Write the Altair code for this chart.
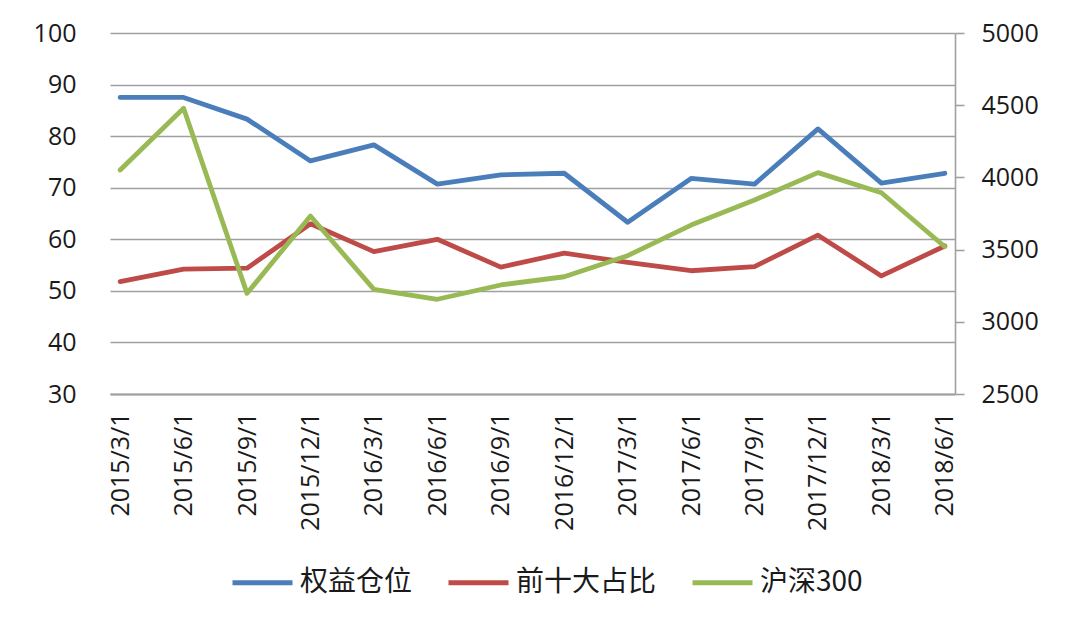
import altair as alt
import pandas as pd

dates = ["2015/3/1", "2015/6/1", "2015/9/1", "2015/12/1", "2016/3/1", "2016/6/1",
         "2016/9/1", "2016/12/1", "2017/3/1", "2017/6/1", "2017/9/1", "2017/12/1",
         "2018/3/1", "2018/6/1"]
equity = [87.5, 87.5, 83.3, 75.2, 78.3, 70.7, 72.5, 72.8, 63.3, 71.8, 70.7, 81.4, 70.9, 72.8]
top10 = [51.8, 54.2, 54.4, 63.0, 57.6, 60.0, 54.6, 57.3, 55.5, 53.9, 54.7, 60.8, 52.9, 58.7]
hs300 = [4051, 4479, 3197, 3733, 3225, 3156, 3255, 3312, 3458, 3670, 3843, 4033, 3894, 3520]

series_names = ["权益仓位", "前十大占比", "沪深300"]
colors = ["#4A7EBB", "#BE4B48", "#98B954"]

left_df = pd.DataFrame(
    [{"date": d, "value": v, "series": series_names[0]} for d, v in zip(dates, equity)]
    + [{"date": d, "value": v, "series": series_names[1]} for d, v in zip(dates, top10)]
)
right_df = pd.DataFrame(
    [{"date": d, "value": v, "series": series_names[2]} for d, v in zip(dates, hs300)]
)

LABEL_FONT = "Open Sans"
GRID = "#a0a0a0"
TXT = "#1a1a1a"

x_enc = alt.X(
    "date:N",
    sort=dates,
    scale=alt.Scale(type="point", padding=0.16),
    axis=alt.Axis(
        title=None, labelAngle=-90, ticks=False, domainColor=GRID, domainWidth=2,
        labelPadding=18, labelFontSize=25, labelFont=LABEL_FONT, labelColor=TXT,
        grid=False,
    ),
)

color_enc = alt.Color(
    "series:N",
    scale=alt.Scale(domain=series_names, range=colors),
    legend=alt.Legend(
        title=None, orient="none", direction="horizontal", columns=3,
        legendX=120, legendY=517,
        symbolType="stroke", symbolSize=3600, symbolStrokeWidth=5,
        labelFont="Noto Sans CJK SC", labelFontSize=28, labelColor=TXT,
        labelOffset=5, columnPadding=25, labelLimit=400,
    ),
)

left = alt.Chart(left_df).mark_line(strokeWidth=4.8, strokeJoin="round", strokeCap="round").encode(
    x=x_enc,
    y=alt.Y(
        "value:Q",
        scale=alt.Scale(domain=[30, 100], nice=False, zero=False),
        axis=alt.Axis(
            title=None, values=[30, 40, 50, 60, 70, 80, 90, 100], domain=False, ticks=False,
            grid=True, gridColor=GRID, gridWidth=1.6,
            labelPadding=34, labelFontSize=25, labelFont=LABEL_FONT, labelColor=TXT,
        ),
    ),
    color=color_enc,
)

right = alt.Chart(right_df).mark_line(strokeWidth=4.8, strokeJoin="round", strokeCap="round").encode(
    x=x_enc,
    y=alt.Y(
        "value:Q",
        scale=alt.Scale(domain=[2500, 5000], nice=False, zero=False),
        axis=alt.Axis(
            title=None, orient="right", values=[2500, 3000, 3500, 4000, 4500, 5000],
            format="d",
            domain=True, domainColor=GRID, domainWidth=1.6,
            ticks=True, tickColor=GRID, tickSize=9, tickWidth=1.6, grid=False,
            labelPadding=17, labelFontSize=25, labelFont=LABEL_FONT, labelColor=TXT,
        ),
    ),
    color=color_enc,
)

chart = (
    alt.layer(left, right)
    .resolve_scale(y="independent")
    .properties(
        width=845, height=361,
        autosize=alt.AutoSizeParams(type="none"),
        padding={"left": 110, "top": 33, "right": 125, "bottom": 234},
        background="white",
    )
    .configure_view(stroke=None)
)

chart.save("out.html", embed_options={"renderer": "svg", "actions": False})
